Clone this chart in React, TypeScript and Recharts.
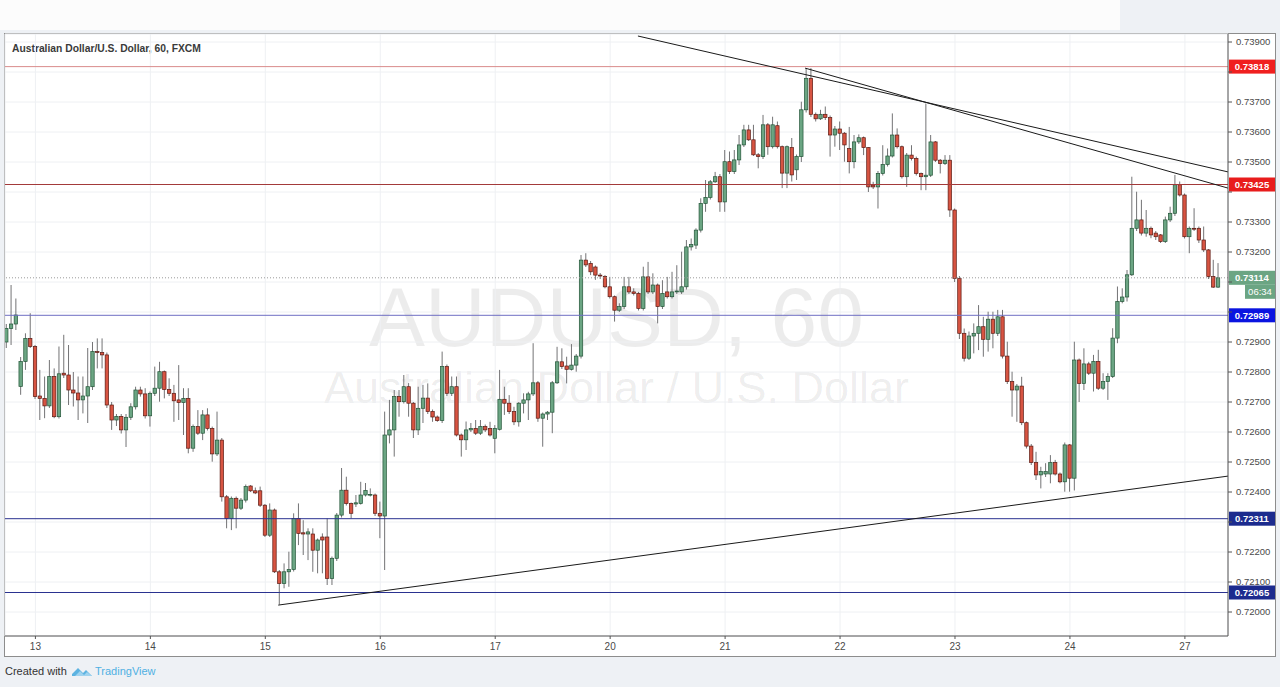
import React from 'react';
import { Bar, CartesianGrid, ComposedChart, ReferenceLine, XAxis, YAxis } from 'recharts';

// hourly AUDUSD bars, [open, high, low, close] in pips (price * 10^4)
const candles: number[][] = [
  [7290, 7296, 7288, 7294.5], [7294.5, 7309, 7289, 7296], [7296, 7304.5, 7294, 7299],
  [7275.2, 7285, 7272.4, 7283.5], [7283.5, 7292.9, 7280.7, 7291.2], [7291.2, 7299.6, 7288, 7288.5],
  [7288.5, 7289, 7271, 7271.8], [7272, 7280.7, 7264, 7271.2], [7271.2, 7278.5, 7264.6, 7268.7],
  [7268.7, 7284, 7268, 7278.5], [7278.5, 7281.2, 7264.6, 7265.1], [7265.1, 7288.5, 7264.5, 7279.4],
  [7279.6, 7292.4, 7278, 7279], [7279, 7289, 7269, 7274], [7274, 7280, 7268.5, 7273],
  [7273, 7278.5, 7264, 7270.7], [7270.7, 7278.5, 7266.2, 7272], [7272, 7288, 7263, 7275.1],
  [7275.1, 7290, 7274, 7286.8], [7286.8, 7291.2, 7281.2, 7286.5], [7286.5, 7291.2, 7281.2, 7285.7],
  [7285.7, 7286.5, 7268, 7269], [7269, 7270, 7260.7, 7264], [7264, 7266, 7262, 7265.2],
  [7265.2, 7266, 7259.5, 7260.7], [7260.7, 7266, 7255, 7264.9], [7264.9, 7269.6, 7264, 7268.4],
  [7268.4, 7275.1, 7267.5, 7274], [7274, 7275.1, 7271.8, 7272.7], [7272.7, 7274.6, 7264.5, 7265.4],
  [7265.4, 7273.5, 7261.8, 7272.9], [7272.9, 7281.8, 7272, 7274.6], [7274.6, 7283.4, 7270.1, 7280.1],
  [7280.1, 7280.5, 7271.2, 7274.2], [7274.2, 7277.9, 7272, 7272.9], [7272.9, 7275.7, 7263.4, 7270.4],
  [7270.7, 7282.3, 7264, 7269.8], [7269.8, 7274.6, 7259, 7271.2], [7271.2, 7274.6, 7252.9, 7254.6],
  [7254.6, 7262.5, 7253.4, 7261.8], [7261.8, 7267.3, 7259, 7259.6], [7259.6, 7267.3, 7257.3, 7265.7],
  [7265.7, 7267.9, 7260.5, 7261.2], [7261.2, 7261.8, 7250.1, 7252.7], [7252.7, 7266.8, 7252, 7257.3],
  [7257.3, 7258, 7236.8, 7238.4], [7238.4, 7239, 7227.9, 7231.2], [7231.2, 7238.5, 7227.3, 7237.9],
  [7237.9, 7238.5, 7227.9, 7234.6], [7234.6, 7238, 7234, 7237.3], [7237.3, 7242.5, 7236.5, 7241.8],
  [7242, 7242.3, 7240, 7240.4], [7240.4, 7241.5, 7239.3, 7239.7], [7240.4, 7241.8, 7235, 7235.6],
  [7235.6, 7236, 7225, 7225.6], [7225.6, 7236.2, 7225, 7234], [7234, 7234.5, 7213, 7213.4],
  [7213.4, 7214, 7202.5, 7209.5], [7209.5, 7216.2, 7207.9, 7213.4], [7213.4, 7220.1, 7208.4, 7214.2],
  [7214.2, 7232.9, 7213.5, 7231.2], [7231.2, 7236.2, 7222.3, 7226.2], [7226.4, 7230.6, 7219, 7226],
  [7226, 7227.9, 7217.3, 7226.7], [7226, 7227.9, 7213.4, 7220.6], [7220.6, 7224.5, 7212.9, 7224],
  [7225, 7226.2, 7212.9, 7224], [7225, 7231.2, 7209, 7211.2], [7211.2, 7218.5, 7209, 7217.9],
  [7217.9, 7233, 7217, 7232.3], [7232.3, 7248, 7231.5, 7240.6], [7240.6, 7245.1, 7235.5, 7236.2],
  [7236.2, 7236.5, 7231.2, 7232.9], [7236, 7239, 7235, 7236.4], [7236.2, 7243.4, 7235.8, 7239],
  [7239, 7243, 7238.5, 7240.5], [7239, 7241.2, 7238.5, 7239.2], [7239, 7239.5, 7232, 7232.9],
  [7232.9, 7236.8, 7224.6, 7232], [7232, 7266.8, 7214, 7259], [7259, 7270.7, 7256.2, 7260.7],
  [7260.7, 7274, 7251.8, 7271.8], [7271.8, 7274, 7265.1, 7270.1], [7270.1, 7279, 7269.5, 7275.1],
  [7275.1, 7276.3, 7265.1, 7269.6], [7269.6, 7270, 7258, 7260.7], [7260.7, 7275.1, 7259, 7267.9],
  [7267.9, 7275.7, 7263, 7271.3], [7271.3, 7276.2, 7266, 7266.8], [7266.8, 7267.5, 7263.4, 7265],
  [7265, 7265.5, 7263.4, 7263.8], [7263.8, 7286.8, 7263, 7281.8], [7281.8, 7282.5, 7272, 7272.9],
  [7272.9, 7278.5, 7272, 7275.1], [7275.1, 7278.5, 7258.5, 7259], [7259, 7259.5, 7251.8, 7257.4],
  [7257.4, 7263.5, 7254, 7260.7], [7260.7, 7263, 7260, 7261.2], [7261.2, 7264, 7259, 7259.6],
  [7259.6, 7264, 7259, 7261.8], [7261.8, 7262.5, 7260, 7260.7], [7261.2, 7263.4, 7258.5, 7259],
  [7257.9, 7262.3, 7252.9, 7261.2], [7260.9, 7280.7, 7260.5, 7270.9], [7270.9, 7275.1, 7265.7, 7269.6],
  [7269.6, 7272.3, 7266, 7266.8], [7266.8, 7268.4, 7262.3, 7263.4], [7263.4, 7270, 7261.8, 7269.6],
  [7269.6, 7272.9, 7266.2, 7270.7], [7270.7, 7273.4, 7264, 7272.7], [7272.7, 7289.6, 7272, 7276.4],
  [7276.4, 7277, 7263.4, 7264.6], [7264.6, 7266.5, 7255.1, 7266], [7266, 7267, 7264, 7266.6],
  [7266.6, 7277, 7259.6, 7276.4], [7276.4, 7288.4, 7276, 7283.4], [7283.4, 7287.9, 7281, 7281.8],
  [7282, 7285.1, 7276.2, 7280.9], [7280.9, 7289.3, 7280.5, 7282.3], [7282.3, 7286, 7280.1, 7285.3],
  [7285.3, 7319, 7284.5, 7317.3], [7317.3, 7319.6, 7315, 7315.7], [7316.2, 7317, 7312.3, 7313.4],
  [7315, 7315.5, 7310.7, 7312.3], [7312.3, 7313, 7311, 7312], [7311.8, 7312.3, 7307.9, 7308.4],
  [7308.4, 7311.7, 7304.5, 7305.1], [7305.1, 7305.5, 7296.8, 7300.6], [7300.6, 7302.9, 7300, 7301.8],
  [7301.8, 7311.7, 7301, 7308.4], [7308.4, 7311.7, 7306, 7306.7], [7306.7, 7307.9, 7305.5, 7306.2],
  [7306.2, 7306.7, 7300.5, 7301.2], [7301.2, 7315.1, 7300.5, 7311.7], [7311.7, 7316.7, 7306, 7306.7],
  [7306.7, 7312.9, 7306, 7309], [7309, 7309.5, 7296.2, 7301.8], [7301.8, 7310.6, 7301, 7306.2],
  [7306.7, 7311.7, 7304.5, 7305.1], [7305.1, 7313.4, 7304.5, 7306.7], [7306.7, 7315.6, 7306, 7307],
  [7306.7, 7320.1, 7306, 7308.4], [7308.4, 7324, 7307.5, 7321.7], [7321.7, 7324.5, 7320.5, 7322.5],
  [7322.3, 7327.9, 7321, 7327.3], [7327.3, 7337.9, 7326.5, 7336.2], [7336.2, 7344, 7333.4, 7338.2],
  [7338.2, 7344, 7337.5, 7343.4], [7343.4, 7346.7, 7343, 7345.1], [7345.1, 7346, 7333.4, 7336.7],
  [7336.7, 7354, 7333.4, 7350.1], [7350.1, 7353.5, 7346, 7346.8], [7346.8, 7354, 7346, 7350.7],
  [7350.7, 7359, 7349, 7355.7], [7355.7, 7362.4, 7355, 7360.7], [7360.7, 7362.4, 7357, 7357.4],
  [7357.4, 7362.4, 7352, 7352.4], [7352.4, 7353, 7347.9, 7351.8], [7351.8, 7365.7, 7351, 7362.4],
  [7362.4, 7363, 7352.4, 7355.1], [7355.1, 7365.1, 7354.5, 7362.4], [7362.1, 7363.5, 7354.5, 7355.1],
  [7355.1, 7355.5, 7341.3, 7346.3], [7346.3, 7355.5, 7341.3, 7355.1], [7354.8, 7358, 7343.5, 7345.7],
  [7347.4, 7352.5, 7344, 7351.8], [7351.8, 7370.1, 7350, 7367.4], [7367.4, 7381.3, 7366.5, 7377.9],
  [7377.9, 7381.3, 7365, 7365.9], [7365.9, 7366.5, 7363.5, 7364.4], [7364.4, 7367.4, 7364, 7365.9],
  [7365.9, 7368.5, 7364, 7364.8], [7364.8, 7365.5, 7351.8, 7359], [7359, 7362, 7355.1, 7361],
  [7361, 7363.5, 7354, 7359.6], [7359.6, 7360, 7350.1, 7355.7], [7354.5, 7361.7, 7346.2, 7350.1],
  [7350.1, 7359, 7347.9, 7356.7], [7356.7, 7359.2, 7356, 7358.1], [7358.1, 7358.5, 7352.3, 7354.8],
  [7354.8, 7355, 7340, 7341.7], [7342.3, 7343.4, 7341, 7341.7], [7341.7, 7347, 7334.5, 7346.2],
  [7346.2, 7355.6, 7345.5, 7349.2], [7349.2, 7354.5, 7348.5, 7352], [7352, 7366.2, 7351.5, 7359],
  [7359, 7361.2, 7354.5, 7355.1], [7355.1, 7355.5, 7344.5, 7345.1], [7345.1, 7353, 7341.7, 7352.3],
  [7352.3, 7355.6, 7350.5, 7351.2], [7351.2, 7351.8, 7345.5, 7346.2], [7346.2, 7346.5, 7340.6, 7345.1],
  [7345.1, 7369.5, 7340.6, 7345.6], [7345.6, 7359, 7345, 7356.7], [7356.7, 7357, 7350, 7350.6],
  [7350.6, 7351, 7346.2, 7349.5], [7349.5, 7352.3, 7349, 7350.6], [7350.6, 7352.3, 7331.7, 7334],
  [7334, 7334.5, 7310, 7311.2], [7311.2, 7312, 7291, 7292.9], [7292.9, 7294.5, 7283.5, 7284.6],
  [7284.6, 7293.5, 7284, 7292], [7292, 7296.2, 7286.2, 7292.9], [7292.9, 7302.3, 7287.3, 7295.1],
  [7295.1, 7298.4, 7285.1, 7290.9], [7290.9, 7300.1, 7286.8, 7297.6], [7297.6, 7300.1, 7287.9, 7292.9],
  [7292.9, 7300.7, 7292, 7298.4], [7298.4, 7300.7, 7284.5, 7285.3], [7285.3, 7290.1, 7276, 7276.8],
  [7276.8, 7280.1, 7265.1, 7274], [7274, 7276, 7263.4, 7275.3], [7275.3, 7278.4, 7262.3, 7263.1],
  [7263.1, 7263.5, 7254.5, 7255.3], [7255.3, 7256, 7249, 7249.8], [7249.8, 7253.4, 7244, 7245.7],
  [7245.7, 7248.4, 7241.2, 7246.8], [7246, 7249.6, 7245, 7246.8], [7246, 7252.3, 7242.9, 7249.8],
  [7249.8, 7250.7, 7245.5, 7246], [7246, 7246.5, 7242.9, 7243.4], [7243.4, 7256.5, 7240.1, 7255.7],
  [7255.7, 7256, 7240.1, 7244.6], [7244.6, 7290.1, 7240.5, 7284], [7284, 7284.5, 7270, 7276.2],
  [7276.2, 7287.9, 7274, 7282.7], [7282.7, 7283.4, 7279, 7279.6], [7279.6, 7285.7, 7273.5, 7283.5],
  [7283.5, 7287.4, 7274, 7274.6], [7274.6, 7279.6, 7274, 7276.8], [7276.8, 7279.6, 7270.7, 7278.5],
  [7278.5, 7294.6, 7278, 7291.3], [7291.3, 7308.5, 7289.6, 7303.5], [7303.5, 7307.9, 7302.9, 7305],
  [7305, 7314, 7303.5, 7312.4], [7312.4, 7345.1, 7312, 7327.9], [7327.9, 7340.1, 7327, 7330.7],
  [7330.7, 7337.4, 7325.5, 7326.3], [7326.3, 7334, 7325.1, 7327.9], [7327.9, 7328.5, 7324.6, 7325.7],
  [7326.3, 7327, 7324, 7325.1], [7325.7, 7326, 7323, 7323.5], [7323.5, 7331.8, 7323, 7330.7],
  [7330.7, 7335.1, 7330, 7332.9], [7332.9, 7345.7, 7332, 7342.4], [7342.4, 7343.5, 7338.5, 7339],
  [7339, 7339.5, 7324.5, 7325.1], [7325.1, 7328.5, 7319.6, 7327.9], [7327.9, 7334.6, 7327, 7327.6],
  [7327.9, 7328.5, 7323, 7324], [7324, 7328.5, 7320, 7320.7], [7320.7, 7321, 7311, 7311.8],
  [7311.8, 7317.4, 7308, 7308.3], [7308.3, 7316.3, 7308, 7311.4],
];

const dayTicks = [6, 30, 54, 78, 102, 126, 150, 174, 198, 222, 246];
const dayLabels = ['13', '14', '15', '16', '17', '20', '21', '22', '23', '24', '27'];
const priceTicks = [
  0.72, 0.721, 0.722, 0.723, 0.724, 0.725, 0.726, 0.727, 0.728, 0.729,
  0.73, 0.731, 0.732, 0.733, 0.734, 0.735, 0.736, 0.737, 0.738, 0.739,
];

const levels = [
  { price: 0.73818, line: '#d98c8c', tag: '#f01f1f' },
  { price: 0.73425, line: '#a33a3a', tag: '#e81c1c' },
  { price: 0.72989, line: '#6f6fc4', tag: '#0a14e0' },
  { price: 0.72311, line: '#2a3290', tag: '#1c2b8e' },
  { price: 0.72065, line: '#2a3290', tag: '#1c2b8e' },
];
const lastPrice = 0.73114;
const countdown = '06:34';

// trend lines: [bar index, pips] -> [bar index, pips]
const trendLines = [
  [131.8, 7392, 255, 7346.7],
  [166.7, 7381.3, 255, 7341.3],
  [56.7, 7202.3, 255, 7245.3],
];

const rows = candles.map(([o, h, l, c], i) => ({
  i,
  o: o / 1e4,
  h: h / 1e4,
  l: l / 1e4,
  c: c / 1e4,
  range: [l / 1e4, h / 1e4],
}));

// axis labels that sit under a price tag are not drawn (the tag covers them)
const tagPrices = [lastPrice, ...levels.map((lv) => lv.price)];
const tickLabel = (v: number) =>
  tagPrices.some((p) => Math.abs(p - v) < 0.00025) ? '' : v.toFixed(5);

function Candle(props: any) {
  const { x, y, width, height, payload } = props;
  if (!payload || x == null) return null;
  const { o, h, l, c } = payload;
  const cx = x + width / 2;
  const yHi = height >= 0 ? y : y + height;
  const yLo = height >= 0 ? y + height : y;
  const span = h - l || 1e-9;
  const py = (v: number) => yHi + ((h - v) / span) * (yLo - yHi);
  const up = c >= o;
  const top = py(Math.max(o, c));
  const bot = py(Math.min(o, c));
  const bw = 3.4;
  return (
    <g>
      <line x1={cx} x2={cx} y1={yHi} y2={yLo} stroke="#737375" strokeWidth={1} />
      <rect
        x={cx - bw / 2}
        y={top}
        width={bw}
        height={Math.max(bot - top, 0.8)}
        fill={up ? '#6ba583' : '#d75442'}
        stroke={up ? '#225437' : '#5b1a13'}
        strokeWidth={0.7}
      />
    </g>
  );
}

function PriceTag({ viewBox, text, fill, sub }: any) {
  if (!viewBox) return null;
  const right = viewBox.x + viewBox.width;
  const y = viewBox.y;
  return (
    <g>
      <rect x={right + 1} y={y - 7} width={46} height={14} fill={fill} />
      <text x={right + 24} y={y + 3.5} textAnchor="middle" fill="#fff" fontSize={9.5} fontWeight="bold"
        fontFamily="Liberation Sans, Arial, sans-serif">{text}</text>
      {sub && (
        <g>
          <rect x={right + 17} y={y + 7} width={30} height={14} fill={fill} />
          <text x={right + 32} y={y + 17.5} textAnchor="middle" fill="#fff" fontSize={9.5}
            fontFamily="Liberation Sans, Arial, sans-serif">{sub}</text>
        </g>
      )}
    </g>
  );
}

export default function App() {
  const font = 'Liberation Sans, Arial, sans-serif';
  return (
    <div style={{ position: 'absolute', left: 0, top: 0, width: 1280, height: 687, overflow: 'hidden', background: '#eef1f5', fontFamily: font }}>
      <div style={{ position: 'absolute', left: 0, top: 0, width: 1120, height: 30, background: '#fcfcfc' }} />
      <div style={{ position: 'absolute', left: 4, top: 33, width: 1272, height: 624, background: '#fff', border: '1px solid #8d8d8d', boxSizing: 'border-box' }} />
      <div style={{ position: 'absolute', left: 5, top: 272, width: 1223, textAlign: 'center', fontSize: 84, color: 'rgba(0,0,0,0.075)', lineHeight: '90px', whiteSpace: 'nowrap' }}>
        AUDUSD, 60
      </div>
      <div style={{ position: 'absolute', left: 5, top: 363, width: 1223, textAlign: 'center', fontSize: 45, color: 'rgba(0,0,0,0.075)', lineHeight: '50px', whiteSpace: 'nowrap' }}>
        Australian Dollar / U.S. Dollar
      </div>
      <div style={{ position: 'absolute', left: 12, top: 43, fontSize: 10.3, fontWeight: 'bold', color: '#3a3a3a' }}>
        Australian Dollar/U.S. Dollar, 60, FXCM
      </div>
      <div style={{ position: 'absolute', left: 0, top: 0 }}>
        <ComposedChart width={1280} height={687} data={rows} margin={{ top: 34, right: 5, bottom: 30, left: 5 }}>
          <CartesianGrid stroke="#eef0f3" vertical horizontal />
          <XAxis
            dataKey="i"
            type="number"
            domain={[-0.35, 255]}
            allowDataOverflow
            ticks={dayTicks}
            interval={0}
            tickFormatter={(v: number) => dayLabels[dayTicks.indexOf(v)] ?? ''}
            tick={{ fontSize: 10, fill: '#4a4a4a', fontFamily: font }}
            tickSize={3}
            tickMargin={4}
            height={21}
            axisLine={{ stroke: '#555' }}
            tickLine={{ stroke: '#555' }}
          />
          <YAxis
            orientation="right"
            type="number"
            domain={[0.7192, 0.739267]}
            allowDataOverflow
            ticks={priceTicks}
            interval={0}
            tickFormatter={tickLabel}
            tick={{ fontSize: 9.5, fill: '#4a4a4a', fontFamily: font }}
            tickSize={4}
            tickMargin={4}
            width={47}
            axisLine={{ stroke: '#555' }}
            tickLine={{ stroke: '#555' }}
          />
          <ReferenceLine y={lastPrice} stroke="#9a9a9a" strokeDasharray="1 2"
            label={(p: any) => <PriceTag viewBox={p.viewBox} text={lastPrice.toFixed(5)} fill="#6ba583" sub={countdown} />} />
          {levels.map((lv) => (
            <ReferenceLine key={lv.price} y={lv.price} stroke={lv.line} strokeWidth={1}
              label={(p: any) => <PriceTag viewBox={p.viewBox} text={lv.price.toFixed(5)} fill={lv.tag} />} />
          ))}
          <Bar dataKey="range" barSize={4} shape={<Candle />} isAnimationActive={false} />
          {trendLines.map(([x1, y1, x2, y2], k) => (
            <ReferenceLine key={k} segment={[{ x: x1, y: y1 / 1e4 }, { x: x2, y: y2 / 1e4 }]}
              stroke="#1a1a1a" strokeWidth={1} ifOverflow="hidden" />
          ))}
        </ComposedChart>
      </div>
      <div style={{ position: 'absolute', left: 5, top: 665, fontSize: 11, color: '#333', whiteSpace: 'nowrap' }}>
        Created with
      </div>
      <svg style={{ position: 'absolute', left: 71, top: 665 }} width={22} height={13} viewBox="0 0 22 13">
        <path d="M1 9 L7 3 L12 8 L15 5 L21 11 L1 11 Z" fill="#5cb3e1" />
        <path d="M4 11 L9 6 L13 10 L16 7 L21 11 Z" fill="#9fd3ef" />
      </svg>
      <div style={{ position: 'absolute', left: 95, top: 665, fontSize: 11, color: '#4fb0e3', whiteSpace: 'nowrap' }}>
        TradingView
      </div>
    </div>
  );
}
